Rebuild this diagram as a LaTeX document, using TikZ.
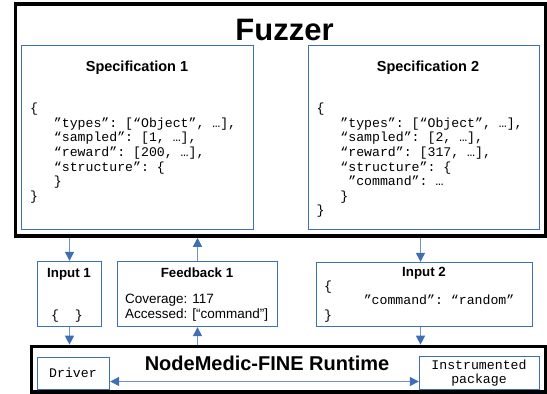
\documentclass[tikz,border=0pt]{standalone}
\usepackage{fontspec}
\setmainfont{Liberation Sans}
\setmonofont{Liberation Mono}
\usetikzlibrary{arrows.meta}
\definecolor{boxblue}{RGB}{62,110,182}
\definecolor{lineblue}{RGB}{110,150,205}
\newcommand{\chind}[1]{\hspace*{#1\fontcharwd\font`\0}}

\begin{document}
\begin{tikzpicture}
        [x=1pt,y=-1pt,
         bigbox/.style={draw,color=black,line width=3.6pt,inner sep=0pt},
         bluebox/.style={draw,color=boxblue,line width=1.4pt,inner sep=0pt},
         head/.style={font=\bfseries\fontsize{13.3}{15}\selectfont,anchor=base,inner sep=0pt},
         code/.style={font=\ttfamily\fontsize{13.2}{14.6}\selectfont,align=left,inner sep=0pt},
         tip/.tip={Triangle[length=9pt,width=9pt,color=boxblue]},
         flow/.style={draw,color=lineblue,line width=1.3pt,-tip}]
        \useasboundingbox (0,0) rectangle (547,394);

        \node[bigbox,minimum width=530pt,minimum height=232pt] (fuzzer) at (280.4,120) {};
        \node[bluebox,minimum width=232pt,minimum height=184pt] (spec1) at (137.5,137.5) {};
        \node[bluebox,minimum width=231pt,minimum height=184pt] (spec2) at (424,137.5) {};
        \node[bluebox,minimum width=64pt,minimum height=65pt] (input1) at (69.5,294) {};
        \node[bluebox,minimum width=160pt,minimum height=65pt] (feedback1) at (197.5,294) {};
        \node[bluebox,minimum width=216pt,minimum height=64pt] (input2) at (424.5,294.5) {};
        \node[bigbox,minimum width=514pt,minimum height=45.5pt] (runtime) at (288.4,369.2) {};
        \node[bluebox,minimum width=72pt,minimum height=32pt] (driver) at (73.5,373.5) {};
        \node[bluebox,minimum width=120pt,minimum height=33pt] (instr) at (479.5,373) {};

        \node[font=\bfseries\fontsize{31}{31}\selectfont,anchor=base,inner sep=0pt] (fuzzertitle) at (284.5,40) {Fuzzer};

        \node[head,font=\bfseries\fontsize{14.5}{16}\selectfont] (spec1title) at (137,71) {Specification 1};
        \node[code,anchor=north west] (spec1code) at (30,103) {\{\\
        \chind{3}”types”: [“Object”, …],\\
        \chind{3}“sampled”: [1, …],\\
        \chind{3}“reward”: [200, …],\\
        \chind{3}“structure”: \{\\
        \chind{3}\}\\
        \}};

        \node[head,font=\bfseries\fontsize{14.5}{16}\selectfont] (spec2title) at (428,71) {Specification 2};
        \node[code,anchor=north west] (spec2code) at (316.5,103) {\{\\
        \chind{3}”types”: [“Object”, …],\\
        \chind{3}“sampled”: [2, …],\\
        \chind{3}“reward”: [317, …],\\
        \chind{3}“structure”: \{\\
        \chind{4}”command”: …\\
        \chind{3}\}\\
        \}};

        \node[head] (input1title) at (69,277) {Input 1};
        \node[code,anchor=base] (input1code) at (67,319) {\{\chind{2}\}};

        \node[head] (feedback1title) at (197,277) {Feedback 1};
        \node[align=left,anchor=north west,inner sep=0pt,font=\fontsize{13.5}{15}\selectfont] (feedback1text) at (125,294.3) {Coverage: 117\\Accessed: [“command”]};

        \node[head] (input2title) at (424,276) {Input 2};
        \node[code,anchor=north west,font=\ttfamily\fontsize{13.2}{14.5}\selectfont] (input2code) at (324,280.5) {\{\\
        \chind{5}”command”: “random”\\
        \}};

        \node[font=\bfseries\fontsize{20}{20}\selectfont,anchor=base,inner sep=0pt] (runtimetitle) at (267,370) {NodeMedic-FINE Runtime};
        \node[code,anchor=base] (drivertext) at (73,377) {Driver};
        \node[code,align=center,anchor=north] (instrtext) at (479,359.5) {Instrumented\\package};

        \draw[flow] (fuzzer.south -| input1.north) -- (input1.north);
        \draw[flow] (input1.south) -- (runtime.north -| input1.south);
        \draw[flow] (runtime.north -| feedback1.south) -- (feedback1.south);
        \draw[flow] (feedback1.north) -- (fuzzer.south -| feedback1.north);
        \draw[flow] ([xshift=-4pt]fuzzer.south -| input2.north) -- ([xshift=-4pt]input2.north);
        \draw[flow] ([xshift=-4pt]input2.south) -- ([xshift=-4pt]runtime.north -| input2.south);
        \draw[flow,tip-tip] ([yshift=-8pt]driver.east) -- ([yshift=-8pt]driver.east -| instr.west);
      \end{tikzpicture}
\end{document}
